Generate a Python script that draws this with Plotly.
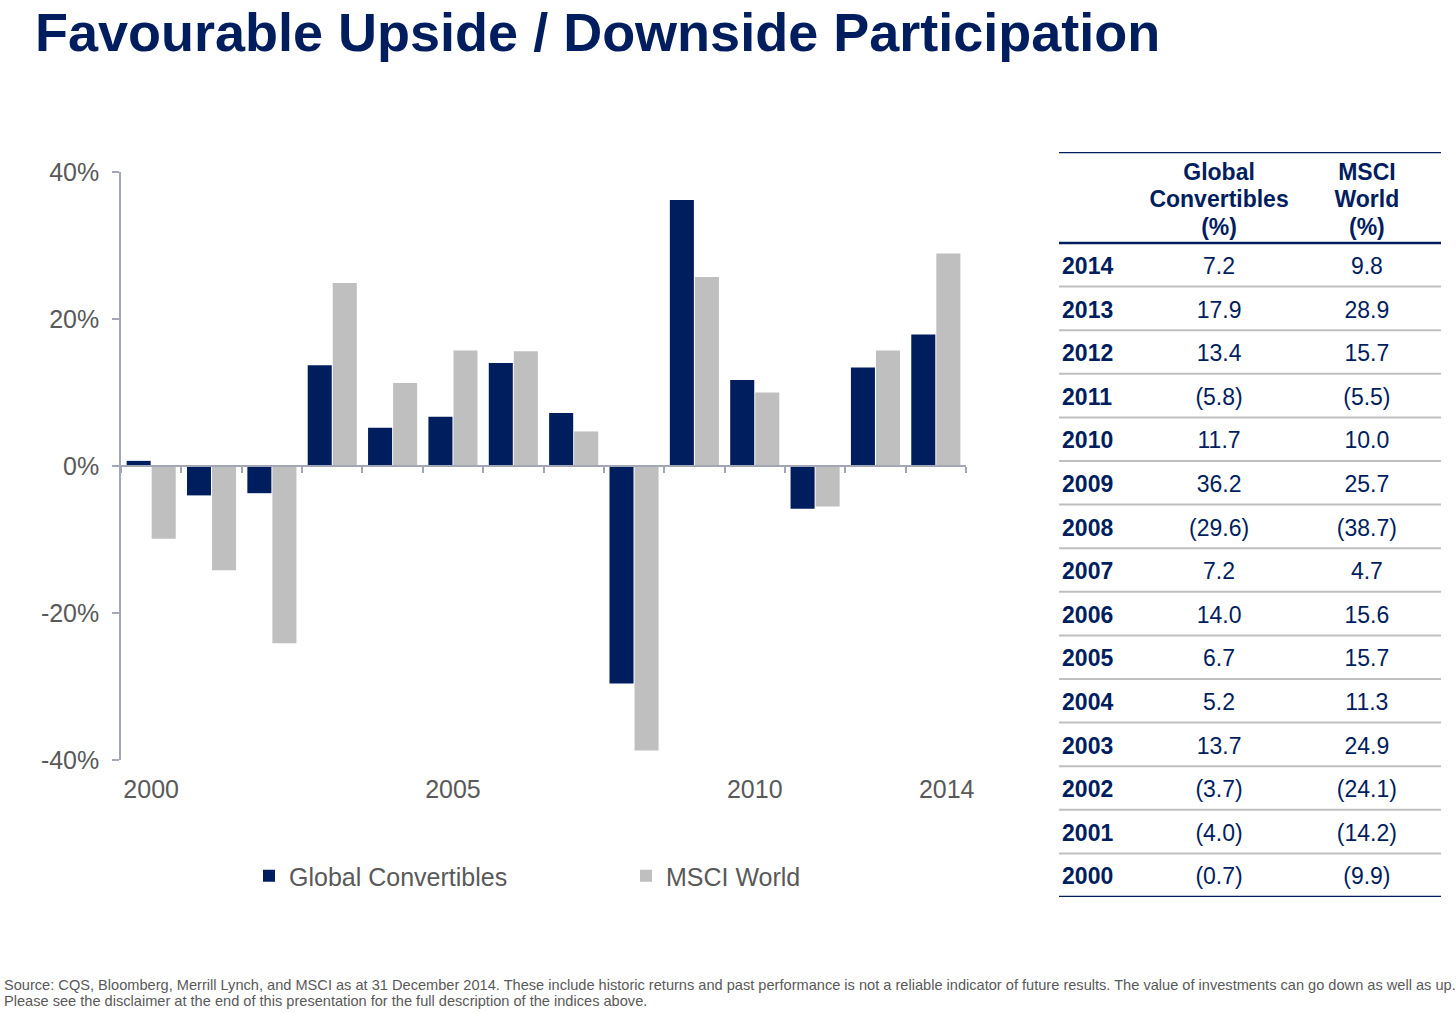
import plotly.graph_objects as go

# ---------------- data ----------------
chart_years = [2000, 2001, 2002, 2003, 2004, 2005, 2006, 2007, 2008, 2009, 2010, 2011, 2012, 2013]
gc_chart = [0.7, -4.0, -3.7, 13.7, 5.2, 6.7, 14.0, 7.2, -29.6, 36.2, 11.7, -5.8, 13.4, 17.9]
msci_chart = [-9.9, -14.2, -24.1, 24.9, 11.3, 15.7, 15.6, 4.7, -38.7, 25.7, 10.0, -5.5, 15.7, 28.9]

x_tick_vals = [2000, 2005, 2010, 2013.18]
x_tick_text = ["2000", "2005", "2010", "2014"]
y_tick_vals = [-40, -20, 0, 20, 40]

table_years = [2014, 2013, 2012, 2011, 2010, 2009, 2008, 2007, 2006, 2005, 2004, 2003, 2002, 2001, 2000]
gc_table = [7.2, 17.9, 13.4, -5.8, 11.7, 36.2, -29.6, 7.2, 14.0, 6.7, 5.2, 13.7, -3.7, -4.0, -0.7]
msci_table = [9.8, 28.9, 15.7, -5.5, 10.0, 25.7, -38.7, 4.7, 15.6, 15.7, 11.3, 24.9, -24.1, -14.2, -9.9]
header_gc = ["Global", "Convertibles", "(%)"]
header_msci = ["MSCI", "World", "(%)"]

title_text = "Favourable Upside / Downside Participation"
footer_lines = [
    "Source: CQS, Bloomberg, Merrill Lynch, and MSCI as at 31 December 2014. These include historic returns "
    "and past performance is not a reliable indicator of future results. The value of investments can go down as well as up.",
    "Please see the disclaimer at the end of this presentation for the full description of the indices above.",
]

# ---------------- style ----------------
W, H = 1456, 1013
NAVY = "#001E5E"
GREY_BAR = "#BFBFBF"
AXIS = "#A3A6B4"
TXT = "#595959"
FONT = "Liberation Sans, Arial, sans-serif"


def px_x(p):
    return p / W


def px_y(p):
    return 1 - p / H


def fmt(v):
    return f"({abs(v):.1f})" if v < 0 else f"{v:.1f}"


fig = go.Figure()

fig.add_trace(go.Bar(x=chart_years, y=gc_chart, name="Global Convertibles",
                     marker=dict(color=NAVY, line=dict(width=0)), xaxis="x", yaxis="y"))
fig.add_trace(go.Bar(x=chart_years, y=msci_chart, name="MSCI World",
                     marker=dict(color=GREY_BAR, line=dict(width=0)), xaxis="x", yaxis="y"))
# invisible helper so the bottom label axis is drawn
fig.add_trace(go.Scatter(x=chart_years, y=[None] * len(chart_years), mode="markers",
                         xaxis="x2", yaxis="y", showlegend=False, hoverinfo="skip"))

# ---------------- table (scatter text on its own axes) ----------------
ROW_PX = 43.6
TEXT_SHIFT = 3.5 / ROW_PX
n_rows = len(table_years)
header_h = 91 / ROW_PX
row_y = [n_rows - i - 0.5 - TEXT_SHIFT for i in range(n_rows)]
col_year, col_gc, col_ms = 0.008, 0.419, 0.806
tfont = dict(family=FONT, size=23, color=NAVY)

fig.add_trace(go.Scatter(x=[col_year] * n_rows, y=row_y, mode="text",
                         text=[str(y) for y in table_years], textposition="middle right",
                         textfont=dict(**tfont, weight="bold"), xaxis="x3", yaxis="y3",
                         showlegend=False, hoverinfo="skip"))
fig.add_trace(go.Scatter(x=[col_gc] * n_rows, y=row_y, mode="text",
                         text=[fmt(v) for v in gc_table], textposition="middle center",
                         textfont=tfont, xaxis="x3", yaxis="y3", showlegend=False, hoverinfo="skip"))
fig.add_trace(go.Scatter(x=[col_ms] * n_rows, y=row_y, mode="text",
                         text=[fmt(v) for v in msci_table], textposition="middle center",
                         textfont=tfont, xaxis="x3", yaxis="y3", showlegend=False, hoverinfo="skip"))

HEADER_LINE_PX = 27.5
head_y = [n_rows + (14 + HEADER_LINE_PX * (2 - k)) / ROW_PX for k in range(3)]
fig.add_trace(go.Scatter(x=[col_gc] * 3 + [col_ms] * 3, y=head_y + head_y, mode="text",
                         text=header_gc + header_msci, textposition="middle center",
                         textfont=dict(**tfont, weight="bold"), xaxis="x3", yaxis="y3",
                         showlegend=False, hoverinfo="skip"))

shapes = []
for yv in [n_rows + header_h, n_rows, 0]:
    shapes.append(dict(type="line", xref="x3 domain", yref="y3", x0=0, x1=1, y0=yv, y1=yv,
                       line=dict(color=NAVY, width=2.5)))
for k in range(1, n_rows):
    shapes.append(dict(type="line", xref="x3 domain", yref="y3", x0=0, x1=1, y0=k, y1=k,
                       line=dict(color=GREY_BAR, width=2)))

# ---------------- layout ----------------
ydom = [px_y(760), px_y(172)]
yr = [-40, 40]
zero_pos = ydom[0] + (0 - yr[0]) / (yr[1] - yr[0]) * (ydom[1] - ydom[0])
xr = [chart_years[0] - 0.5, chart_years[-1] + 0.5]
bounds = [y - 0.5 for y in chart_years] + [chart_years[-1] + 0.5]

fig.update_layout(
    width=W, height=H,
    margin=dict(l=0, r=0, t=0, b=0, autoexpand=False),
    paper_bgcolor="white", plot_bgcolor="white",
    font=dict(family=FONT, color=TXT),
    barmode="group", bargap=0.17, bargroupgap=0.04,
    title=dict(text=f"<b>{title_text}</b>", x=px_x(35), xanchor="left",
               y=px_y(32), yanchor="middle",
               font=dict(family=FONT, size=54, color=NAVY)),
    xaxis=dict(domain=[px_x(121), px_x(966)], range=xr, anchor="free", position=zero_pos,
               showline=True, linecolor=AXIS, linewidth=1.5,
               tickvals=bounds, ticks="outside", ticklen=6, tickcolor=AXIS, tickwidth=1.5,
               showticklabels=False, showgrid=False, zeroline=False, automargin=False),
    xaxis2=dict(domain=[px_x(121), px_x(966)], range=xr, matches="x", overlaying="x", anchor="y",
                showline=False, ticks="", tickvals=x_tick_vals, ticktext=x_tick_text,
                tickfont=dict(family=FONT, size=25, color=TXT), ticklabelstandoff=12,
                showgrid=False, zeroline=False, automargin=False),
    yaxis=dict(domain=ydom, range=yr, showline=True, linecolor=AXIS, linewidth=1.5,
               tickvals=y_tick_vals, ticktext=[f"{v}%" for v in y_tick_vals],
               ticks="outside", ticklen=7, tickcolor=AXIS, tickwidth=1.5,
               tickfont=dict(family=FONT, size=25, color=TXT), ticklabelstandoff=8,
               showgrid=False, zeroline=False, automargin=False),
    xaxis3=dict(domain=[px_x(1059), px_x(1441)], range=[0, 1], visible=False, anchor="y3",
                automargin=False),
    yaxis3=dict(domain=[px_y(897), px_y(152)], range=[0, n_rows + header_h], visible=False,
                anchor="x3", automargin=False),
    legend=dict(orientation="h", x=px_x(249), xanchor="left", y=px_y(876), yanchor="middle",
                font=dict(family=FONT, size=25, color=TXT), entrywidth=332, entrywidthmode="pixels",
                itemclick=False, itemdoubleclick=False),
    shapes=shapes,
    annotations=[dict(text=line, x=px_x(2), y=px_y(yp), xref="paper", yref="paper",
                      xanchor="left", yanchor="middle", align="left", showarrow=False,
                      font=dict(family=FONT, size=14.6, color=TXT))
                 for line, yp in zip(footer_lines, [985, 1001])],
)

fig.write_html("out.html", config={"displayModeBar": False},
               post_script="document.body.style.margin='0px';")
